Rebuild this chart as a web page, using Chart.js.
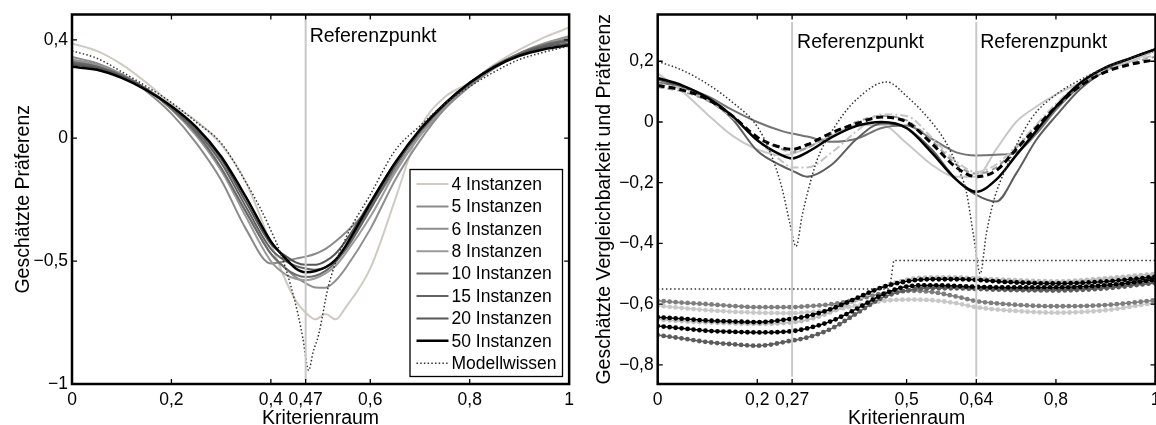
<!DOCTYPE html>
<html><head><meta charset="utf-8">
<script src="https://cdn.jsdelivr.net/npm/chart.js@4/dist/chart.umd.min.js"></script>
<style>
html,body{margin:0;padding:0;background:#fff;overflow:hidden;width:1156px;height:425px;position:relative;}
canvas{position:absolute;top:0;}
#c1{left:0;} #c2{left:580px;}
</style></head><body>
<canvas id="c1" width="580" height="440"></canvas>
<canvas id="c2" width="600" height="440"></canvas>
<script>
// ---------------- LEFT PANEL DATA ----------------
const LEFT_X_TICKS = [0, 0.2, 0.4, 0.47, 0.6, 0.8, 1];
const LEFT_Y_TICKS = [-1, -0.5, 0, 0.4];
const LEFT_LABELS = ['4 Instanzen','5 Instanzen','6 Instanzen','8 Instanzen','10 Instanzen','15 Instanzen','20 Instanzen','50 Instanzen','Modellwissen'];
const LEFT_X = [0, 0.05, 0.1, 0.15, 0.2, 0.25, 0.3, 0.35, 0.4, 0.43, 0.45, 0.47, 0.49, 0.51, 0.53, 0.55, 0.6, 0.65, 0.7, 0.75, 0.8, 0.85, 0.9, 0.95, 1];
const INST_4  = [0.385, 0.355, 0.3, 0.225, 0.14, 0.07, -0.025, -0.18, -0.43, -0.58, -0.66, -0.71, -0.737, -0.715, -0.737, -0.69, -0.53, -0.25, 0.04, 0.167, 0.225, 0.3, 0.36, 0.41, 0.45];
const INST_5  = [0.33, 0.305, 0.26, 0.19, 0.1, -0.02, -0.17, -0.37, -0.51, -0.5, -0.49, -0.482, -0.47, -0.45, -0.42, -0.385, -0.28, -0.13, 0.01, 0.12, 0.21, 0.285, 0.34, 0.38, 0.41];
const INST_6  = [0.32, 0.3, 0.26, 0.2, 0.118, 0.01, -0.13, -0.3, -0.47, -0.53, -0.565, -0.59, -0.607, -0.608, -0.58, -0.53, -0.37, -0.17, -0.01, 0.12, 0.215, 0.29, 0.345, 0.385, 0.415];
const INST_8  = [0.315, 0.295, 0.258, 0.2, 0.12, 0.015, -0.13, -0.32, -0.5, -0.555, -0.572, -0.578, -0.57, -0.55, -0.52, -0.47, -0.32, -0.14, 0.01, 0.13, 0.22, 0.29, 0.345, 0.385, 0.41];
const INST_10 = [0.31, 0.292, 0.255, 0.198, 0.12, 0.02, -0.12, -0.3, -0.47, -0.53, -0.555, -0.565, -0.56, -0.54, -0.505, -0.45, -0.28, -0.11, 0.03, 0.14, 0.225, 0.295, 0.345, 0.38, 0.4];
const INST_15 = [0.305, 0.29, 0.255, 0.2, 0.125, 0.03, -0.1, -0.28, -0.45, -0.5, -0.52, -0.53, -0.535, -0.525, -0.5, -0.455, -0.29, -0.115, 0.025, 0.135, 0.22, 0.29, 0.34, 0.375, 0.395];
const INST_20 = [0.3, 0.285, 0.25, 0.2, 0.13, 0.04, -0.085, -0.26, -0.43, -0.48, -0.505, -0.515, -0.515, -0.5, -0.47, -0.42, -0.26, -0.1, 0.03, 0.14, 0.225, 0.29, 0.34, 0.37, 0.385];
const INST_50 = [0.29, 0.278, 0.245, 0.195, 0.13, 0.045, -0.075, -0.24, -0.42, -0.49, -0.53, -0.545, -0.54, -0.525, -0.495, -0.44, -0.265, -0.1, 0.035, 0.14, 0.225, 0.29, 0.335, 0.362, 0.378];
const MODEL_L_X = [0, 0.05, 0.1, 0.15, 0.2, 0.25, 0.3, 0.35, 0.38, 0.4, 0.42, 0.44, 0.455, 0.465, 0.476, 0.485, 0.496, 0.516, 0.55, 0.6, 0.65, 0.7, 0.75, 0.8, 0.85, 0.9, 0.95, 1];
const MODEL_L_Y = [0.355, 0.325, 0.27, 0.21, 0.145, 0.065, -0.02, -0.18, -0.29, -0.375, -0.47, -0.6, -0.72, -0.82, -0.945, -0.87, -0.8, -0.6, -0.41, -0.23, -0.05, 0.05, 0.14, 0.21, 0.27, 0.32, 0.35, 0.375];
const REF_L_X = [0.47];
const REF_L_Y = [0.5, -0.985];

// ---------------- RIGHT PANEL DATA ----------------
const RIGHT_X_TICKS = [0, 0.2, 0.27, 0.5, 0.64, 0.8, 1];
const RIGHT_Y_TICKS = [-0.8, -0.6, -0.4, -0.2, 0, 0.2];
const R_X = [0, 0.05, 0.1, 0.15, 0.2, 0.25, 0.27, 0.3, 0.35, 0.4, 0.45, 0.5, 0.55, 0.6, 0.64, 0.68, 0.72, 0.76, 0.8, 0.85, 0.9, 0.95, 1];
const R_BLACK    = [0.145, 0.12, 0.08, 0.02, -0.06, -0.11, -0.12, -0.1, -0.05, -0.013, 0.0, -0.02, -0.1, -0.19, -0.23, -0.19, -0.11, -0.03, 0.05, 0.13, 0.18, 0.21, 0.24];
const R_DASH     = [0.12, 0.105, 0.075, 0.02, -0.05, -0.085, -0.09, -0.075, -0.035, -0.005, 0.016, 0.0, -0.07, -0.15, -0.18, -0.16, -0.09, -0.02, 0.05, 0.12, 0.165, 0.19, 0.205];
const R_LIGHT    = [0.16, 0.1, 0.025, -0.045, -0.09, -0.11, -0.105, -0.085, -0.045, -0.01, -0.01, -0.07, -0.14, -0.18, -0.18, -0.09, 0.0, 0.05, 0.09, 0.13, 0.17, 0.2, 0.235];
const R_SHALLOW  = [0.13, 0.115, 0.085, 0.04, 0.0, -0.03, -0.038, -0.048, -0.065, -0.055, -0.02, -0.012, -0.055, -0.1, -0.11, -0.108, -0.1, -0.04, 0.04, 0.12, 0.175, 0.21, 0.24];
const R_DEEP     = [0.14, 0.115, 0.075, 0.01, -0.095, -0.145, -0.16, -0.18, -0.14, -0.055, -0.005, -0.02, -0.09, -0.19, -0.24, -0.262, -0.17, -0.06, 0.02, 0.11, 0.17, 0.21, 0.24];
const R_DASHDOT  = [0.125, 0.11, 0.075, 0.015, -0.06, -0.13, -0.15, -0.15, -0.1, -0.03, 0.025, 0.02, -0.05, -0.13, -0.165, -0.14, -0.08, -0.01, 0.06, 0.13, 0.17, 0.2, 0.22];
const R_GRAYDASH = [0.115, 0.1, 0.07, 0.015, -0.05, -0.09, -0.1, -0.085, -0.04, 0.0, 0.02, 0.005, -0.06, -0.14, -0.17, -0.15, -0.085, -0.015, 0.055, 0.125, 0.17, 0.195, 0.215];
const MODEL_R_X = [0, 0.05, 0.1, 0.15, 0.2, 0.226, 0.25, 0.265, 0.278, 0.29, 0.3, 0.32, 0.36, 0.4, 0.46, 0.5, 0.55, 0.58, 0.6, 0.62, 0.635, 0.648, 0.66, 0.675, 0.7, 0.75, 0.8, 0.85, 0.9, 0.95, 1];
const MODEL_R_Y = [0.2, 0.17, 0.125, 0.065, -0.015, -0.1, -0.22, -0.33, -0.41, -0.31, -0.24, -0.126, -0.005, 0.075, 0.132, 0.085, 0.0, -0.07, -0.14, -0.23, -0.38, -0.5, -0.37, -0.26, -0.15, 0.01, 0.09, 0.14, 0.18, 0.21, 0.235];
const STEP_X = [0, 0.466, 0.474, 1];
const STEP_Y = [-0.55, -0.55, -0.456, -0.456];
const LO_X = [0, 0.05, 0.1, 0.15, 0.2, 0.27, 0.3, 0.35, 0.4, 0.45, 0.5, 0.55, 0.6, 0.64, 0.7, 0.8, 0.9, 1];
const LO_GRAY   = [-0.589, -0.595, -0.6, -0.606, -0.61, -0.61, -0.607, -0.6, -0.585, -0.565, -0.556, -0.56, -0.575, -0.59, -0.6, -0.607, -0.603, -0.587];
const LO_LIGHT  = [-0.605, -0.613, -0.62, -0.625, -0.628, -0.63, -0.627, -0.62, -0.605, -0.59, -0.585, -0.587, -0.597, -0.61, -0.62, -0.628, -0.62, -0.595];
const LO_BLACK1 = [-0.643, -0.648, -0.654, -0.657, -0.659, -0.648, -0.64, -0.615, -0.58, -0.545, -0.525, -0.518, -0.518, -0.52, -0.527, -0.532, -0.525, -0.51];
const LO_BLACK2 = [-0.672, -0.68, -0.688, -0.691, -0.693, -0.689, -0.68, -0.655, -0.615, -0.57, -0.542, -0.538, -0.54, -0.543, -0.545, -0.545, -0.538, -0.52];
const LO_DARK   = [-0.702, -0.713, -0.725, -0.732, -0.737, -0.72, -0.71, -0.68, -0.63, -0.58, -0.555, -0.548, -0.548, -0.55, -0.553, -0.555, -0.548, -0.53];
const LO_PALE   = [-0.65, -0.656, -0.66, -0.663, -0.665, -0.66, -0.652, -0.625, -0.585, -0.545, -0.52, -0.512, -0.512, -0.515, -0.52, -0.525, -0.515, -0.5];
const REF_R_X = [0.27, 0.64];
const REF_R_Y = [0.329, -0.839];

// ---------------- HELPERS ----------------
const FONT = "'Liberation Sans', Arial, Helvetica, sans-serif";
Chart.defaults.font.family = FONT;
Chart.defaults.color = '#000';

function pts(xs, ys) { return xs.map((x, i) => ({x: x, y: ys[i]})); }
function fmt(v) {
  const a = Math.round(Math.abs(v) * 1000) / 1000;
  return (v < 0 ? '\u2212' : '') + String(a).replace('.', ',');
}
function curve(label, xs, ys, color, width, order, extra) {
  return Object.assign({
    label: label, data: pts(xs, ys), borderColor: color, backgroundColor: color,
    borderWidth: width, pointRadius: 0, fill: false, order: order,
    cubicInterpolationMode: 'monotone'
  }, extra || {});
}
function refLine(x, ys) {
  return {label: 'ref', data: [{x: x, y: ys[0]}, {x: x, y: ys[1]}], borderColor: '#c8c8c8',
    borderWidth: 2, pointRadius: 0, fill: false, order: -1, tension: 0};
}

const framePlugin = {
  id: 'frame',
  afterDatasetsDraw(chart, args, opts) {
    const ctx = chart.ctx, a = chart.chartArea, xs = chart.scales.x, ys = chart.scales.y;
    ctx.save();
    ctx.strokeStyle = '#000';
    ctx.lineWidth = 1.3;
    ctx.setLineDash([]);
    ctx.beginPath();
    xs.ticks.forEach(t => {
      const p = xs.getPixelForValue(t.value);
      ctx.moveTo(p, a.bottom); ctx.lineTo(p, a.bottom - 5);
      ctx.moveTo(p, a.top); ctx.lineTo(p, a.top + 5);
    });
    ys.ticks.forEach(t => {
      const p = ys.getPixelForValue(t.value);
      ctx.moveTo(a.left, p); ctx.lineTo(a.left + 5, p);
      ctx.moveTo(a.right, p); ctx.lineTo(a.right - 5, p);
    });
    ctx.stroke();
    ctx.lineWidth = 2.5;
    ctx.strokeRect(a.left, a.top, a.right - a.left, a.bottom - a.top);
    ctx.fillStyle = '#000';
    ctx.font = '19.5px ' + FONT;
    ctx.textBaseline = 'alphabetic';
    ctx.textAlign = 'left';
    (opts.notes || []).forEach(n => {
      ctx.fillText(n.text, xs.getPixelForValue(n.x) + n.dx, n.y);
    });
    const L = opts.legend;
    if (L) {
      ctx.fillStyle = '#fff';
      ctx.fillRect(L.x0, L.y0, L.x1 - L.x0, L.y1 - L.y0);
      ctx.strokeStyle = '#000';
      ctx.lineWidth = 1.3;
      ctx.strokeRect(L.x0, L.y0, L.x1 - L.x0, L.y1 - L.y0);
      const entries = chart.data.datasets.filter(d => d.inLegend);
      entries.sort((p, q) => p.legendIndex - q.legendIndex);
      ctx.font = '17.5px ' + FONT;
      ctx.textBaseline = 'middle';
      entries.forEach((d, i) => {
        const yy = L.row0 + i * L.dy;
        ctx.strokeStyle = d.borderColor;
        ctx.lineWidth = d.borderWidth;
        ctx.setLineDash(d.borderDash || []);
        ctx.beginPath(); ctx.moveTo(L.lx0, yy); ctx.lineTo(L.lx1, yy); ctx.stroke();
        ctx.setLineDash([]);
        ctx.fillStyle = '#000';
        ctx.fillText(d.label, L.tx, yy + 1);
      });
    }
    ctx.restore();
  }
};

function axes(xTicks, yTicks, ymin, ymax, yTitle, yWidth, yTitlePad) {
  return {
    x: {
      type: 'linear', min: 0, max: 1,
      afterBuildTicks: s => { s.ticks = xTicks.map(v => ({value: v})); },
      afterFit: s => { s.height = 56; },
      grid: {display: false, drawTicks: false}, border: {display: false},
      ticks: {autoSkip: false, maxRotation: 0, minRotation: 0, padding: 6, font: {size: 17.5}, color: '#000', callback: v => fmt(v)},
      title: {display: true, text: 'Kriterienraum', font: {size: 19.5}, color: '#000', padding: {top: 0, bottom: 9.3}}
    },
    y: {
      type: 'linear', min: ymin, max: ymax,
      afterBuildTicks: s => { s.ticks = yTicks.map(v => ({value: v})); },
      afterFit: s => { s.width = yWidth; },
      grid: {display: false, drawTicks: false}, border: {display: false},
      ticks: {autoSkip: false, padding: 4, font: {size: 17.5}, color: '#000', callback: v => fmt(v)},
      title: {display: true, text: yTitle, font: {size: 19.5}, color: '#000', padding: {top: yTitlePad, bottom: 0}}
    }
  };
}

// ---------------- LEFT CHART ----------------
const LEFT_SERIES = [INST_4, INST_5, INST_6, INST_8, INST_10, INST_15, INST_20, INST_50];
const LEFT_COLORS = ['#cfcbc3', '#8a8a8a', '#8e8e8e', '#9a9a9a', '#6b6b6b', '#636363', '#575757', '#000000'];
const LEFT_WIDTHS = [2, 2, 2, 2, 2, 2, 2, 2.5];
const leftDatasets = LEFT_SERIES.map((ys, i) =>
  curve(LEFT_LABELS[i], LEFT_X, ys, LEFT_COLORS[i], LEFT_WIDTHS[i], 8 - i, {inLegend: true, legendIndex: i}));
leftDatasets.push(curve(LEFT_LABELS[8], MODEL_L_X, MODEL_L_Y, '#333333', 1.5, 0,
  {inLegend: true, legendIndex: 8, borderDash: [1.5, 2.2]}));
leftDatasets.push(refLine(REF_L_X[0], REF_L_Y));

new Chart(document.getElementById('c1'), {
  type: 'line',
  data: {datasets: leftDatasets},
  options: {
    responsive: false, animation: false, devicePixelRatio: 1,
    layout: {padding: {left: 0, right: 8.5, top: 14, bottom: 0}},
    plugins: {
      legend: {display: false}, tooltip: {enabled: false},
      frame: {
        notes: [{text: 'Referenzpunkt', x: REF_L_X[0], dx: 4, y: 41.5}],
        legend: {x0: 410, y0: 169.5, x1: 562.5, y1: 376.5, row0: 184, dy: 22.4, lx0: 416.5, lx1: 448.5, tx: 451.5}
      }
    },
    scales: axes(LEFT_X_TICKS, LEFT_Y_TICKS, -1, 0.503, 'Geschätzte Präferenz', 72, 12.4)
  },
  plugins: [framePlugin]
});

// ---------------- RIGHT CHART ----------------
const rightDatasets = [
  curve('light', R_X, R_LIGHT, '#c8c8c8', 2, 7),
  curve('shallow', R_X, R_SHALLOW, '#747474', 2, 6),
  curve('deep', R_X, R_DEEP, '#5e5e5e', 2, 5),
  curve('graydash', R_X, R_GRAYDASH, '#9a9a9a', 2, 4, {borderDash: [6, 4]}),
  curve('dashdot', R_X, R_DASHDOT, '#c4c4c4', 2, 3, {borderDash: [8, 3, 2, 3]}),
  curve('black', R_X, R_BLACK, '#000000', 2.5, 2),
  curve('dash', R_X, R_DASH, '#000000', 3, 1, {borderDash: [7, 4]}),
  curve('model', MODEL_R_X, MODEL_R_Y, '#333333', 1.5, 0, {borderDash: [1.5, 2.2]}),
  curve('step', STEP_X, STEP_Y, '#333333', 1.5, 0, {borderDash: [1.5, 2.6], cubicInterpolationMode: 'default', tension: 0})
];
const LOWER = [
  [LO_LIGHT, '#c8c8c8', 16],
  [LO_GRAY, '#7e7e7e', 15],
  [LO_DARK, '#5c5c5c', 14],
  [LO_PALE, '#bdbdbd', 13],
  [LO_BLACK2, '#000000', 12],
  [LO_BLACK1, '#000000', 11]
];
LOWER.forEach(([ys, col, ord]) => {
  rightDatasets.push(curve('lo', LO_X, ys, col, 1.5, ord));
  rightDatasets.push(curve('lo-dots', LO_X, ys, col, 4.8, ord - 0.5, {borderDash: [0, 6], borderCapStyle: 'round'}));
});
rightDatasets.push(refLine(REF_R_X[0], REF_R_Y));
rightDatasets.push(refLine(REF_R_X[1], REF_R_Y));

new Chart(document.getElementById('c2'), {
  type: 'line',
  data: {datasets: rightDatasets},
  options: {
    responsive: false, animation: false, devicePixelRatio: 1,
    layout: {padding: {left: 0, right: 24.5, top: 14, bottom: 0}},
    plugins: {
      legend: {display: false}, tooltip: {enabled: false},
      frame: {
        notes: [
          {text: 'Referenzpunkt', x: REF_R_X[0], dx: 5, y: 47.5},
          {text: 'Referenzpunkt', x: REF_R_X[1], dx: 4, y: 47.5}
        ]
      }
    },
    scales: axes(RIGHT_X_TICKS, RIGHT_Y_TICKS, -0.863, 0.354, 'Geschätzte Vergleichbarkeit und Präferenz', 77.7, 13.4)
  },
  plugins: [framePlugin]
});
</script>
</body></html>
